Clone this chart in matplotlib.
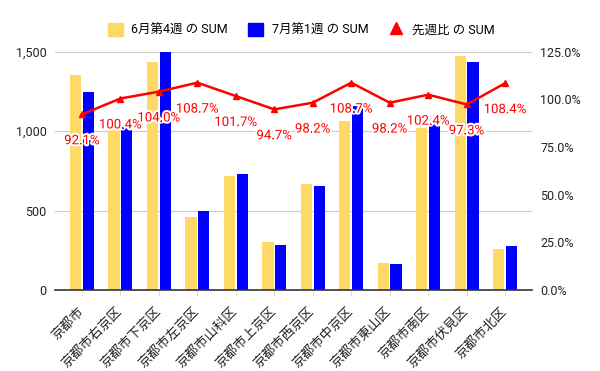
import matplotlib
matplotlib.use("Agg")
import matplotlib.pyplot as plt
import matplotlib.patheffects as pe
from matplotlib.lines import Line2D
from matplotlib.patches import Patch
from matplotlib.ticker import FuncFormatter
import numpy as np

plt.rcParams['font.family'] = ['Roboto', 'Noto Sans CJK JP', 'DejaVu Sans']

# データ
wards = ['京都市', '京都市右京区', '京都市下京区', '京都市左京区', '京都市山科区', '京都市上京区',
         '京都市西京区', '京都市中京区', '京都市東山区', '京都市南区', '京都市伏見区', '京都市北区']
week_jun4 = [1352, 1020, 1437, 458, 717, 302, 667, 1063, 170, 1021, 1472, 258]
week_jul1 = [1245, 1024, 1495, 498, 729, 286, 655, 1155, 167, 1045, 1432, 280]
ratio = [92.1, 100.4, 104.0, 108.7, 101.7, 94.7, 98.2, 108.7, 98.2, 102.4, 97.3, 108.4]

yellow = '#ffd966'
blue = '#0000ff'
red = '#ff0000'

fig = plt.figure(figsize=(6, 3.71), dpi=100)
ax = fig.add_axes([0.0917, 0.218, 0.795, 0.643])
ax2 = ax.twinx()

x = np.arange(len(wards))
w = 0.29
ax.bar(x - 0.165, week_jun4, width=w, color=yellow, zorder=2)
ax.bar(x + 0.165, week_jul1, width=w, color=blue, zorder=2)

ax.set_xlim(-0.7, len(wards) - 0.3)
ax.set_ylim(0, 1500)
ax.set_yticks([0, 500, 1000, 1500])
ax.yaxis.set_major_formatter(FuncFormatter(lambda v, p: f'{int(v):,}'))
ax.grid(axis='y', color='#cccccc', linewidth=0.8, zorder=0)
ax.set_axisbelow(True)
ax.tick_params(axis='y', length=0, labelsize=9, colors='#222222', pad=6)
ax.set_xticks(x)
ax.set_xticklabels(wards, rotation=45, ha='right', va='center', rotation_mode='anchor', fontsize=9.5)
ax.tick_params(axis='x', length=4, color='#dddddd', pad=10, colors='#222222')
for s in ['top', 'right', 'left']:
    ax.spines[s].set_visible(False)
ax.spines['bottom'].set_color('#333333')
ax.spines['bottom'].set_linewidth(1.2)

r = np.array(ratio) / 100
ax2.plot(x, r, color=red, linewidth=1.8, marker='^', markersize=4, zorder=3)
for xi, ri in zip(x, ratio):
    ax2.annotate(f'{ri:.1f}%', (xi, ri / 100), xytext=(0, -19), textcoords='offset points',
                 ha='center', va='center', color=red, fontsize=9.5,
                 path_effects=[pe.withStroke(linewidth=3, foreground='white')], zorder=4)
ax2.set_ylim(0, 1.25)
ax2.set_yticks([0, 0.25, 0.5, 0.75, 1.0, 1.25])
ax2.yaxis.set_major_formatter(FuncFormatter(lambda v, p: f'{v * 100:.1f}%'))
ax2.tick_params(axis='y', length=0, labelsize=9, colors='#222222', pad=6)
for s in ['top', 'right', 'left', 'bottom']:
    ax2.spines[s].set_visible(False)

handles = [Patch(color=yellow), Patch(color=blue),
           Line2D([], [], color=red, marker='^', linestyle='none', markersize=8)]
labels = ['6月第4週 の SUM', '7月第1週 の SUM', '先週比 の SUM']
fig.legend(handles, labels, loc='center', bbox_to_anchor=(0.502, 0.92), ncol=3, frameon=False,
           fontsize=9, handlelength=1.2, handleheight=1.2, handletextpad=0.7, columnspacing=1.6)

fig.savefig('out.png', dpi=100)
